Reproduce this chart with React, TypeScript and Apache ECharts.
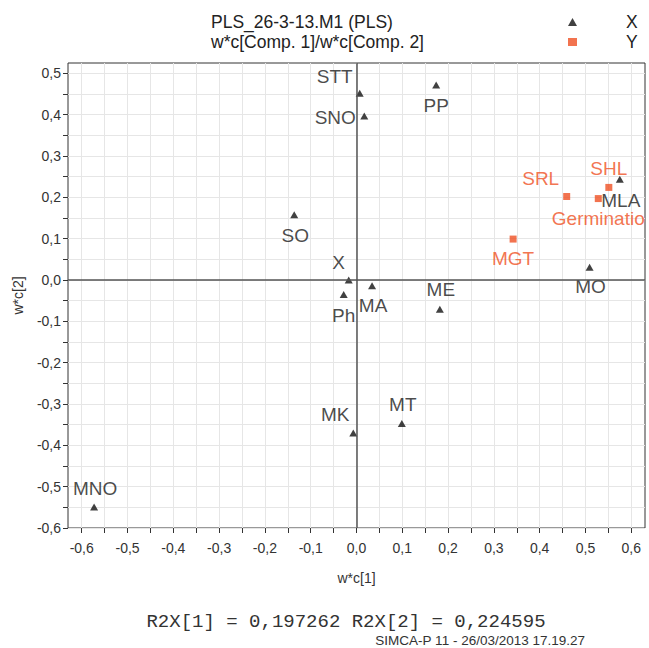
import React, { useEffect, useRef } from 'react';
import * as echarts from 'echarts';

// X block (triangles) loadings
const xNames = ['STT', 'SNO', 'PP', 'SO', 'X', 'Ph', 'MA', 'ME', 'MO', 'MLA', 'MK', 'MT', 'MNO'];
const xW1 = [0.007, 0.017, 0.174, -0.136, -0.017, -0.028, 0.034, 0.182, 0.509, 0.575, -0.007, 0.099, -0.573];
const xW2 = [0.452, 0.397, 0.472, 0.158, 0.0, -0.035, -0.014, -0.071, 0.031, 0.244, -0.37, -0.347, -0.549];

// Y block (squares) loadings
const yNames = ['SRL', 'SHL', 'Germination', 'MGT'];
const yW1 = [0.459, 0.551, 0.528, 0.342];
const yW2 = [0.202, 0.224, 0.197, 0.099];

// Axis ticks and labels
const xTickValues = [-0.6, -0.55, -0.5, -0.45, -0.4, -0.35, -0.3, -0.25, -0.2, -0.15, -0.1, -0.05, 0, 0.05, 0.1, 0.15, 0.2, 0.25, 0.3, 0.35, 0.4, 0.45, 0.5, 0.55, 0.6];
const xLabelValues = [-0.6, -0.5, -0.4, -0.3, -0.2, -0.1, 0, 0.1, 0.2, 0.3, 0.4, 0.5, 0.6];
const yTickValues = [-0.6, -0.55, -0.5, -0.45, -0.4, -0.35, -0.3, -0.25, -0.2, -0.15, -0.1, -0.05, 0, 0.05, 0.1, 0.15, 0.2, 0.25, 0.3, 0.35, 0.4, 0.45, 0.5];
const yLabelValues = [-0.6, -0.5, -0.4, -0.3, -0.2, -0.1, 0, 0.1, 0.2, 0.3, 0.4, 0.5];

const titleLines = ['PLS_26-3-13.M1 (PLS)', 'w*c[Comp. 1]/w*c[Comp. 2]'];
const footerMain = 'R2X[1] = 0,197262 R2X[2] = 0,224595';
const footerSmall = 'SIMCA-P 11 - 26/03/2013 17.19.27';

// label placement (style, not data)
const labelOffsets: Record<string, [number, number]> = {
  STT: [-25, -17], SNO: [-29, 2], PP: [0, 21], SO: [1, 21], X: [-10, -18], Ph: [0, 21],
  MA: [1, 20], ME: [1, -20], MO: [1, 19], MLA: [1, 21], MK: [-18, -18], MT: [1, -19],
  MNO: [1, -18], SRL: [-26, -18], SHL: [0, -19], Germination: [-46.5, 20], MGT: [0, 19],
};

const FONT = '"Liberation Sans", Arial, Helvetica, sans-serif';
const ORANGE = '#EF5023';
const fmt = (v: number) => v.toFixed(1).replace('.', ',');

export default function App() {
  const ref = useRef<HTMLDivElement>(null);
  useEffect(() => {
    if (!ref.current) return;
    const chart = echarts.init(ref.current, null, { renderer: 'svg' });
    const option: any = {
      animation: false,
      backgroundColor: '#ffffff',
      title: {
        text: titleLines.join('\n'),
        left: 211,
        top: 12,
        padding: 0,
        textStyle: { fontSize: 17.5, lineHeight: 20, fontWeight: 'normal', color: '#222', fontFamily: FONT },
      },
      legend: {
        orient: 'vertical',
        left: 568,
        top: 12,
        padding: 0,
        itemGap: 0,
        itemWidth: 9,
        itemHeight: 8,
        selectedMode: false,
        data: [
          { name: 'X', icon: 'triangle' },
          { name: 'Y', icon: 'rect' },
        ],
        textStyle: { fontSize: 17.5, lineHeight: 20, color: '#222', fontFamily: FONT, padding: [0, 0, 0, 44] },
      },
      grid: {
        left: 68,
        top: 63,
        width: 577,
        height: 465,
        show: true,
        borderColor: '#333',
        borderWidth: 1,
        containLabel: false,
        outerBoundsMode: 'none',
      },
      xAxis: {
        type: 'value',
        min: -0.63,
        max: 0.63,
        position: 'bottom',
        name: 'w*c[1]',
        nameLocation: 'middle',
        nameGap: 43,
        nameTextStyle: { fontSize: 14, color: '#333', fontFamily: FONT },
        axisLine: { show: false, onZero: false },
        axisTick: { show: true, length: 5, inside: false, lineStyle: { color: '#333' }, customValues: xTickValues },
        axisLabel: {
          customValues: xLabelValues,
          formatter: (v: number) => fmt(v),
          margin: 13,
          fontSize: 14,
          color: '#333',
          fontFamily: FONT,
          showMinLabel: true,
          showMaxLabel: true,
        },
        splitLine: { show: true, lineStyle: { color: '#e6e6e6', width: 1 } },
      },
      yAxis: {
        type: 'value',
        min: -0.6,
        max: 0.525,
        position: 'left',
        name: 'w*c[2]',
        nameLocation: 'middle',
        nameGap: 43,
        nameTextStyle: { fontSize: 14, color: '#333', fontFamily: FONT },
        axisLine: { show: false, onZero: false },
        axisTick: { show: true, length: 5, inside: false, lineStyle: { color: '#333' }, customValues: yTickValues },
        axisLabel: {
          customValues: yLabelValues,
          formatter: (v: number) => fmt(v),
          margin: 7,
          fontSize: 14,
          color: '#333',
          fontFamily: FONT,
        },
        splitLine: { show: true, lineStyle: { color: '#e6e6e6', width: 1 } },
      },
      graphic: [
        {
          type: 'text',
          x: 346,
          y: 622,
          style: {
            text: footerMain,
            fontSize: 19,
            fontFamily: '"Liberation Mono", "Courier New", monospace',
            fill: '#333',
            align: 'center',
            verticalAlign: 'middle',
          },
        },
        {
          type: 'text',
          x: 585,
          y: 640,
          style: {
            text: footerSmall,
            fontSize: 13.5,
            fontFamily: FONT,
            fill: '#333',
            align: 'right',
            verticalAlign: 'middle',
          },
        },
      ],
      series: [
        {
          type: 'line',
          name: 'zero',
          data: [],
          silent: true,
          z: 1,
          markLine: {
            silent: true,
            symbol: ['none', 'none'],
            label: { show: false },
            lineStyle: { color: '#555', width: 1.5, type: 'solid' },
            data: [{ xAxis: 0 }, { yAxis: 0 }],
          },
        },
        {
          type: 'scatter',
          name: 'X',
          symbol: 'triangle',
          symbolSize: [8, 7],
          z: 3,
          itemStyle: { color: '#111' },
          emphasis: { disabled: true },
          label: {
            show: true,
            position: 'inside',
            formatter: '{b}',
            fontSize: 19,
            color: '#1a1a1a',
            fontFamily: FONT,
            align: 'center',
            verticalAlign: 'middle',
          },
          data: xNames.map((n, i) => ({
            name: n,
            value: [xW1[i], xW2[i]],
            label: { offset: labelOffsets[n] },
          })),
        },
        {
          type: 'scatter',
          name: 'Y',
          symbol: 'rect',
          symbolSize: 7,
          z: 3,
          itemStyle: { color: ORANGE },
          emphasis: { disabled: true },
          label: {
            show: true,
            position: 'inside',
            formatter: '{b}',
            fontSize: 19,
            color: ORANGE,
            fontFamily: FONT,
            align: 'center',
            verticalAlign: 'middle',
          },
          data: yNames.map((n, i) => ({
            name: n,
            value: [yW1[i], yW2[i]],
            label:
              n === 'Germination'
                ? { offset: labelOffsets[n], align: 'left', width: 100, overflow: 'truncate', ellipsis: '' }
                : { offset: labelOffsets[n] },
          })),
        },
      ],
    };
    chart.setOption(option);
    return () => chart.dispose();
  }, []);
  return <div ref={ref} style={{ position: 'fixed', left: 0, top: 0, width: 649, height: 648 }} />;
}
